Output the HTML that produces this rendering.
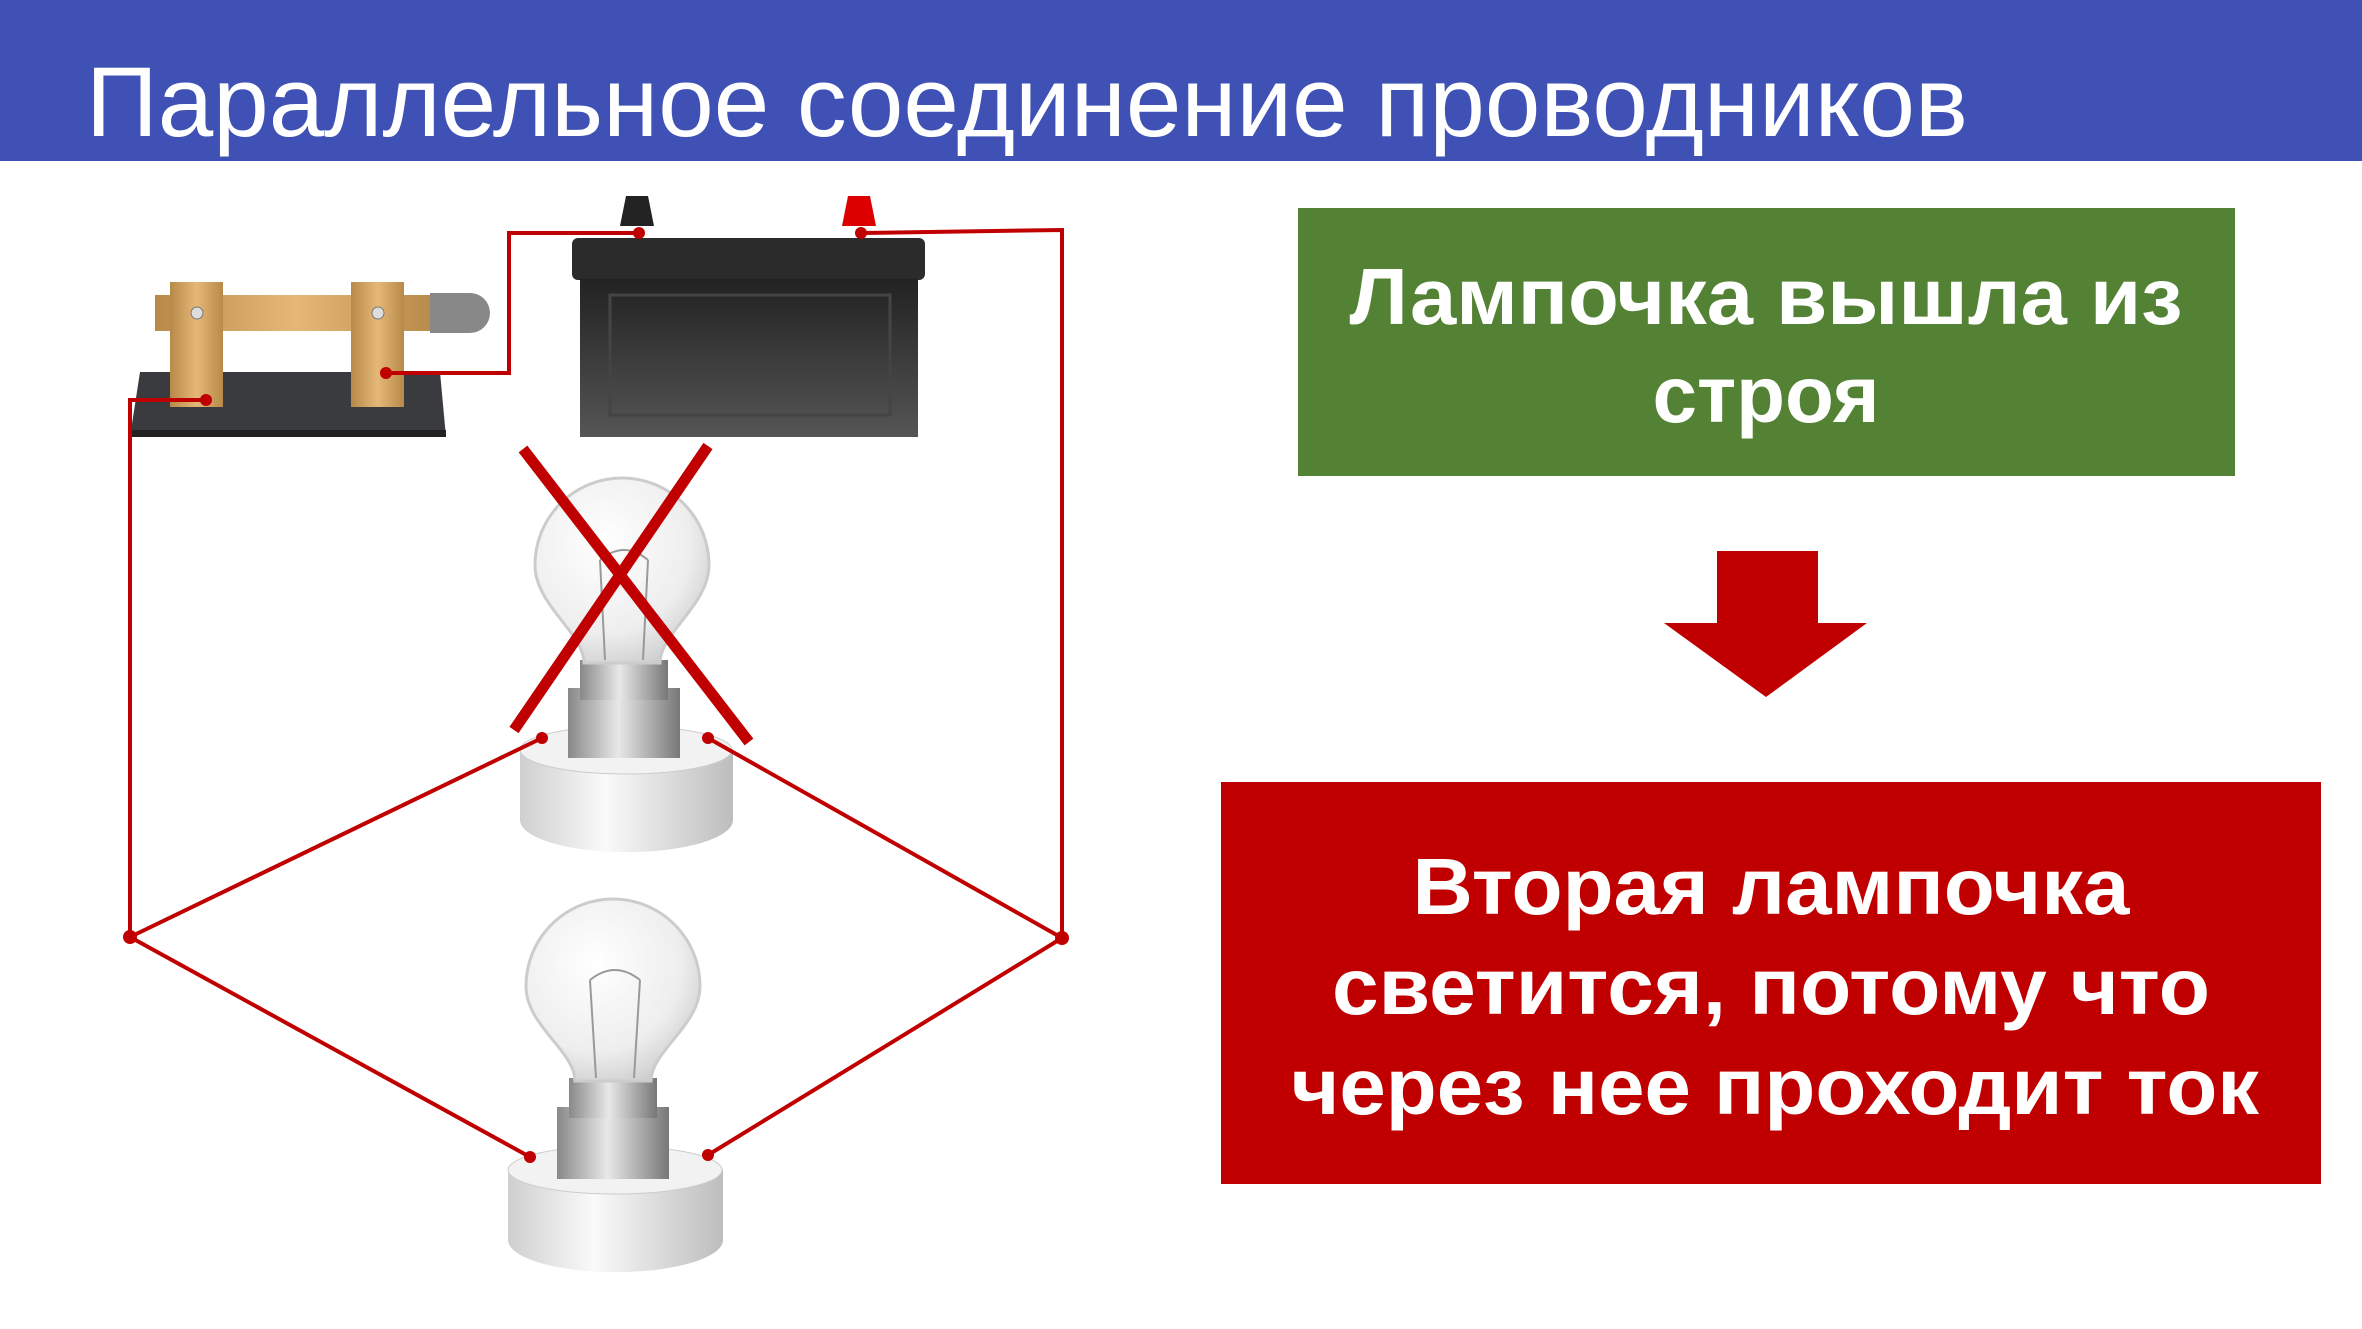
<!DOCTYPE html>
<html><head><meta charset="utf-8"><style>html,body{margin:0;padding:0;background:#fff}svg{display:block}</style></head>
<body>
<svg width="2362" height="1329" viewBox="0 0 2362 1329" xmlns="http://www.w3.org/2000/svg">
<defs>
<linearGradient id="brass" x1="0" y1="0" x2="1" y2="0"><stop offset="0" stop-color="#b88a4a"/><stop offset="0.5" stop-color="#e6b878"/><stop offset="1" stop-color="#b88a4a"/></linearGradient>
<linearGradient id="bat" x1="0" y1="0" x2="0" y2="1"><stop offset="0" stop-color="#222"/><stop offset="1" stop-color="#555"/></linearGradient>
<linearGradient id="sock" x1="0" y1="0" x2="1" y2="0"><stop offset="0" stop-color="#cfcfcf"/><stop offset="0.4" stop-color="#fafafa"/><stop offset="1" stop-color="#bdbdbd"/></linearGradient>
<linearGradient id="metal" x1="0" y1="0" x2="1" y2="0"><stop offset="0" stop-color="#888"/><stop offset="0.45" stop-color="#e8e8e8"/><stop offset="1" stop-color="#777"/></linearGradient>
<radialGradient id="glass" cx="0.4" cy="0.35" r="0.7"><stop offset="0" stop-color="#ffffff"/><stop offset="0.7" stop-color="#eeeeee"/><stop offset="1" stop-color="#cfcfcf"/></radialGradient>
</defs>
<rect x="0" y="0" width="2362" height="161" fill="#3f51b5"/>
<text x="86" y="136" font-family="Liberation Sans, sans-serif" font-size="99" fill="#fff" textLength="1882" lengthAdjust="spacingAndGlyphs">Параллельное соединение проводников</text>

<!-- switch -->
<polygon points="140,372 440,372 446,437 130,437" fill="#3a3b3e"/>
<rect x="130" y="430" width="316" height="7" fill="#222"/>
<rect x="155" y="295" width="280" height="36" fill="url(#brass)"/>
<path d="M430 293 h40 a20 20 0 0 1 0 40 h-40z" fill="#888"/>
<rect x="170" y="282" width="53" height="125" fill="url(#brass)"/>
<rect x="351" y="282" width="53" height="125" fill="url(#brass)"/>
<circle cx="197" cy="313" r="6" fill="#ddd" stroke="#777"/>
<circle cx="378" cy="313" r="6" fill="#ddd" stroke="#777"/>

<!-- battery -->
<path d="M626 196 h22 l6 30 h-34z" fill="#222"/>
<path d="M848 196 h22 l6 30 h-34z" fill="#d00"/>
<rect x="572" y="238" width="353" height="42" rx="6" fill="#2b2b2b"/>
<rect x="580" y="279" width="338" height="158" fill="url(#bat)"/>
<rect x="610" y="295" width="280" height="120" fill="none" stroke="#444" stroke-width="3"/>

<!-- top bulb -->
<path d="M520 750 v70 a106 32 0 0 0 213 0 v-70z" fill="url(#sock)"/>
<ellipse cx="626" cy="750" rx="106" ry="24" fill="#f2f2f2" stroke="#ccc"/>
<rect x="568" y="688" width="112" height="70" fill="url(#metal)"/>
<rect x="580" y="660" width="88" height="40" fill="url(#metal)"/>
<path d="M584 663 C584 633 535 605 535 565 A87 87 0 0 1 709 565 C709 605 660 633 660 663 Z" fill="url(#glass)" stroke="#ccc" stroke-width="3"/>
<path d="M605 660 L600 560 M643 660 L648 560 M600 560 q24 -20 48 0" stroke="#999" stroke-width="2" fill="none"/>

<!-- bottom bulb -->
<path d="M508 1170 v70 a107 32 0 0 0 215 0 v-70z" fill="url(#sock)"/>
<ellipse cx="615" cy="1170" rx="107" ry="24" fill="#f2f2f2" stroke="#ccc"/>
<rect x="557" y="1107" width="112" height="72" fill="url(#metal)"/>
<rect x="569" y="1078" width="88" height="40" fill="url(#metal)"/>
<path d="M575 1081 C575 1051 526 1026 526 986 A87 87 0 0 1 700 986 C700 1026 651 1051 651 1081 Z" fill="url(#glass)" stroke="#ccc" stroke-width="3"/>
<path d="M596 1078 L590 980 M634 1078 L640 980 M590 980 q25 -20 50 0" stroke="#999" stroke-width="2" fill="none"/>

<!-- wires -->
<g stroke="#c00000" stroke-width="4" fill="none">
<polyline points="206,400 130,400 130,937"/>
<polyline points="386,373 509,373 509,233 639,233"/>
<polyline points="861,233 1062,230 1062,938"/>
<line x1="130" y1="937" x2="542" y2="738"/>
<line x1="130" y1="937" x2="530" y2="1157"/>
<line x1="1062" y1="938" x2="708" y2="738"/>
<line x1="1062" y1="938" x2="708" y2="1155"/>
</g>
<g fill="#c00000">
<circle cx="130" cy="937" r="7"/><circle cx="1062" cy="938" r="7"/>
<circle cx="206" cy="400" r="6"/><circle cx="386" cy="373" r="6"/>
<circle cx="639" cy="233" r="6"/><circle cx="861" cy="233" r="6"/>
<circle cx="542" cy="738" r="6"/><circle cx="708" cy="738" r="6"/>
<circle cx="530" cy="1157" r="6"/><circle cx="708" cy="1155" r="6"/>
</g>
<!-- X -->
<g stroke="#c00000" stroke-width="11">
<line x1="523" y1="449" x2="749" y2="742"/>
<line x1="708" y1="446" x2="514" y2="730"/>
</g>

<!-- green box -->
<rect x="1298" y="208" width="937" height="268" fill="#548235"/>
<g font-family="Liberation Sans, sans-serif" font-weight="bold" fill="#fff" font-size="80" text-anchor="middle">
<text x="1766" y="324" textLength="833" lengthAdjust="spacingAndGlyphs">Лампочка вышла из</text>
<text x="1766" y="422">строя</text>
</g>
<!-- arrow -->
<polygon points="1717,551 1818,551 1818,623 1867,623 1766,697 1664,623 1717,623" fill="#c00000"/>
<!-- red box -->
<rect x="1221" y="782" width="1100" height="402" fill="#c00000"/>
<g font-family="Liberation Sans, sans-serif" font-weight="bold" fill="#fff" font-size="80" text-anchor="middle">
<text x="1771" y="914" textLength="717" lengthAdjust="spacingAndGlyphs">Вторая лампочка</text>
<text x="1771" y="1014" textLength="878" lengthAdjust="spacingAndGlyphs">светится, потому что</text>
<text x="1775" y="1114" textLength="968" lengthAdjust="spacingAndGlyphs">через нее проходит ток</text>
</g>
</svg>
</body></html>
